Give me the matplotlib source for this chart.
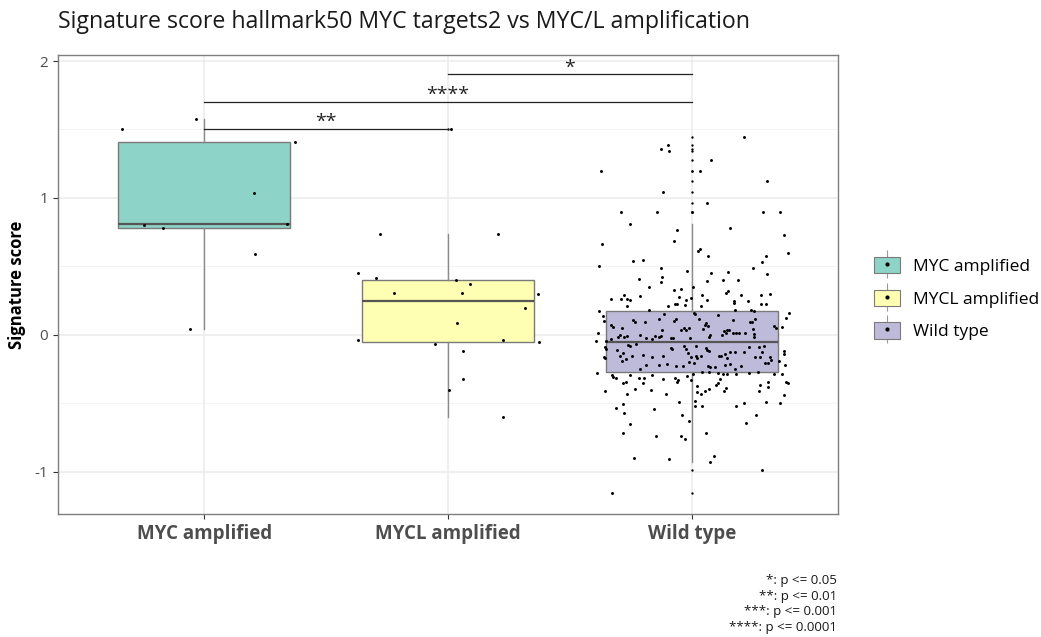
import numpy as np
import matplotlib
matplotlib.use('Agg')
from matplotlib import pyplot as plt
from matplotlib.patches import Patch
from matplotlib.lines import Line2D
from matplotlib.legend_handler import HandlerTuple

plt.rcParams['font.family'] = ['Open Sans', 'DejaVu Sans']

## Data

groups = ['MYC amplified', 'MYCL amplified', 'Wild type']
colors = ['#8dd3c7', '#ffffb3', '#bebada']

# box stats (q1, median, q3, whisker low, whisker high)
q1 = [0.783, -0.053, -0.272]
med = [0.810, 0.250, -0.053]
q3 = [1.411, 0.404, 0.175]
whislo = [0.042, -0.596, -0.927]
whishi = [1.577, 0.735, 0.808]

# jittered points: (x offset, score)
myc_pts = [(-0.337, 1.504), (-0.032, 1.577), (0.373, 1.411), (0.205, 1.039),
           (-0.249, 0.800), (-0.168, 0.783), (0.339, 0.810), (0.209, 0.593),
           (-0.060, 0.042)]

mycl_pts = [(-0.280, 0.735), (0.204, 0.735), (-0.368, 0.450), (-0.296, 0.414),
            (0.033, 0.401), (0.089, 0.370), (-0.220, 0.309), (0.059, 0.309),
            (0.370, 0.299), (0.314, 0.200), (0.037, 0.090), (-0.370, -0.034),
            (0.227, -0.039), (0.373, -0.049), (-0.053, -0.064), (0.060, -0.119),
            (0.063, -0.319), (0.003, -0.399), (0.225, -0.596), (0.012, 1.504)]

wt_pts = [
    # above upper whisker
    (0.213, 1.447), (-0.098, 1.387), (-0.128, 1.358), (-0.094, 1.341), (0.077, 1.280),
    (-0.374, 1.199), (0.033, 1.197), (0.310, 1.124), (-0.116, 1.044), (0.061, 0.961),
    (-0.291, 0.900), (-0.141, 0.900), (0.291, 0.900), (0.362, 0.900),
    # upper whisker area
    (-0.255, 0.808), (-0.059, 0.769), (0.156, 0.781), (0.378, 0.730), (-0.071, 0.684),
    (-0.368, 0.667), (0.025, 0.615), (0.033, 0.625), (0.395, 0.596), (0.066, 0.577),
    (0.306, 0.579), (-0.242, 0.542), (-0.198, 0.550), (0.288, 0.535), (-0.381, 0.506),
    (-0.126, 0.489), (0.250, 0.489), (-0.019, 0.470), (0.078, 0.455), (0.150, 0.460),
    (0.309, 0.445), (-0.123, 0.421), (-0.217, 0.406), (-0.126, 0.387), (0.063, 0.394),
    (0.130, 0.404), (0.189, 0.404), (-0.175, 0.353), (0.005, 0.350), (-0.071, 0.331),
    (-0.046, 0.338), (0.141, 0.309), (0.148, 0.319), (0.320, 0.302), (-0.277, 0.290),
    (0.042, 0.290), (0.200, 0.290), (0.286, 0.290), (-0.052, 0.277), (-0.333, 0.265),
    (-0.291, 0.265), (-0.266, 0.265), (-0.253, 0.255), (-0.214, 0.282), (-0.023, 0.253),
    (-0.003, 0.270), (0.063, 0.253), (0.172, 0.246), (0.175, 0.231), (0.231, 0.246),
    (0.286, 0.224), (0.306, 0.224), (-0.098, 0.214), (-0.068, 0.226), (-0.060, 0.224),
    (-0.026, 0.219), (0.036, 0.214), (-0.265, 0.214),
    # inside box, above median
    (-0.177, 0.182), (0.179, 0.182), (0.245, 0.185), (0.254, 0.173), (0.399, 0.158),
    (-0.380, 0.173), (-0.364, 0.141), (-0.358, 0.104), (-0.331, 0.075), (-0.325, 0.056),
    (-0.239, 0.109), (-0.231, 0.092), (-0.191, 0.097), (-0.136, 0.117), (-0.115, 0.153),
    (-0.073, 0.102), (-0.063, 0.117), (0.008, 0.158), (0.014, 0.153), (0.029, 0.117),
    (0.053, 0.075), (0.060, 0.085), (0.067, 0.068), (0.045, 0.044), (0.109, 0.148),
    (0.169, 0.109), (0.238, 0.092), (0.247, 0.092), (0.261, 0.117), (0.251, 0.044),
    (0.336, 0.063), (0.344, 0.049), (0.370, 0.056), (0.388, 0.124), (-0.286, 0.051),
    (-0.122, 0.039), (-0.046, 0.039), (-0.033, 0.051), (-0.023, 0.036), (-0.011, 0.049),
    (0.131, 0.032), (0.145, 0.039), (0.153, 0.036), (0.168, 0.015), (0.180, 0.015),
    (0.193, 0.015), (0.217, 0.015), (0.254, 0.007), (0.255, -0.017), (-0.386, 0.012),
    (-0.393, -0.046), (-0.294, 0.000), (-0.302, -0.017), (-0.277, -0.017), (-0.264, -0.010),
    (-0.214, 0.002), (-0.186, -0.024), (-0.165, -0.029), (-0.149, -0.010), (-0.134, -0.012),
    (-0.128, -0.010), (-0.086, -0.020), (-0.076, -0.020), (-0.008, -0.020), (0.070, -0.012),
    (0.074, -0.002), (0.126, 0.002), (0.142, 0.012), (-0.331, -0.029), (-0.352, -0.046),
    # inside box, below median
    (-0.261, -0.071), (-0.253, -0.078), (-0.230, -0.066), (-0.357, -0.090), (-0.352, -0.104),
    (-0.305, -0.109), (-0.280, -0.134), (-0.359, -0.158), (-0.357, -0.170), (-0.296, -0.156),
    (-0.246, -0.153), (-0.268, -0.177), (-0.288, -0.192), (-0.200, -0.144), (-0.163, -0.163),
    (-0.116, -0.151), (-0.087, -0.093), (-0.081, -0.102), (-0.033, -0.083), (-0.022, -0.102),
    (-0.015, -0.134), (-0.003, -0.163), (0.016, -0.151), (0.023, -0.168), (0.037, -0.151),
    (0.057, -0.095), (0.063, -0.109), (0.071, -0.114), (0.016, -0.078), (0.112, -0.151),
    (0.122, -0.151), (0.135, -0.139), (0.156, -0.122), (0.177, -0.122), (0.213, -0.124),
    (0.235, -0.088), (0.276, -0.090), (0.295, -0.080), (0.288, -0.122), (0.282, -0.163),
    (0.320, -0.163), (0.327, -0.180), (0.380, -0.114), (0.380, -0.139), (0.258, -0.158),
    (0.145, -0.168), (-0.101, -0.212), (-0.066, -0.229), (-0.213, -0.250), (-0.186, -0.217),
    (-0.136, -0.217), (-0.036, -0.224), (-0.012, -0.197), (0.011, -0.204), (0.068, -0.224),
    (0.074, -0.236), (0.094, -0.236), (0.135, -0.217), (0.157, -0.212), (0.179, -0.250),
    (0.204, -0.224), (0.302, -0.207), (0.313, -0.204), (0.358, -0.192), (0.382, -0.221),
    (-0.388, -0.277), (-0.329, -0.292), (-0.254, -0.290), (-0.165, -0.294), (0.005, -0.287),
    (0.040, -0.272), (0.070, -0.272), (0.108, -0.275), (0.128, -0.285), (0.146, -0.285),
    (0.183, -0.285), (0.235, -0.275), (0.272, -0.272), (0.336, -0.285), (0.372, -0.285),
    # lower whisker area
    (-0.325, -0.304), (-0.311, -0.316), (-0.216, -0.312), (-0.197, -0.312), (-0.120, -0.324),
    (-0.068, -0.316), (-0.060, -0.341), (-0.055, -0.328), (-0.019, -0.297), (-0.005, -0.328),
    (0.115, -0.324), (-0.357, -0.406), (-0.284, -0.353), (-0.268, -0.345), (-0.264, -0.431),
    (-0.231, -0.394), (-0.202, -0.353), (-0.167, -0.401), (-0.104, -0.433), (-0.052, -0.487),
    (-0.309, -0.530), (-0.283, -0.504), (-0.277, -0.567), (-0.155, -0.538), (-0.040, -0.582),
    (-0.011, -0.628), (-0.255, -0.647), (-0.280, -0.715), (-0.146, -0.735), (-0.045, -0.740),
    (-0.026, -0.759), (-0.236, -0.895), (-0.093, -0.905), (0.022, -0.372), (0.022, -0.414),
    (0.036, -0.433), (0.056, -0.406), (0.070, -0.394), (0.014, -0.479), (0.012, -0.521),
    (0.042, -0.516), (0.098, -0.365), (0.108, -0.353), (0.134, -0.406), (0.139, -0.389),
    (0.182, -0.516), (0.214, -0.496), (0.262, -0.582), (0.221, -0.642), (0.057, -0.715),
    (0.091, -0.885), (0.074, -0.927), (0.276, -0.406), (0.282, -0.365), (0.313, -0.340),
    (0.313, -0.382), (0.303, -0.489), (0.362, -0.499), (0.378, -0.438), (0.388, -0.345),
    (0.395, -0.348),
    # below lower whisker
    (0.290, -0.985), (-0.329, -1.156),
]

all_pts = [myc_pts, mycl_pts, wt_pts]

# significance brackets: (group a, group b, y, label)
sig_pairs = [(2, 3, 1.905, '*'), (1, 3, 1.701, '****'), (1, 2, 1.504, '**')]

caption = '*: p <= 0.05\n**: p <= 0.01\n***: p <= 0.001\n****: p <= 0.0001'

#%%

fig = plt.figure(figsize=(10.41, 6.37), dpi=100)
ax = fig.add_axes([0.0557, 0.1931, 0.7493, 0.7206])

pos = [1, 2, 3]
stats = []
for i in range(3):
    vals = np.array([p[1] for p in all_pts[i]])
    fl = vals[(vals > whishi[i] + 1e-6) | (vals < whislo[i] - 1e-6)]
    stats.append(dict(q1=q1[i], med=med[i], q3=q3[i], whislo=whislo[i],
                      whishi=whishi[i], fliers=fl, label=groups[i]))

bp = ax.bxp(stats, positions=pos, widths=0.705, patch_artist=True, showcaps=False,
            boxprops=dict(edgecolor='#7a7a7a', linewidth=1.0),
            whiskerprops=dict(color='#8a8a8a', linewidth=1.0),
            medianprops=dict(color='#555555', linewidth=1.6),
            flierprops=dict(marker='o', markersize=1.7, markerfacecolor='black',
                            markeredgecolor='black', markeredgewidth=0, linestyle='none'),
            zorder=2)
for patch, c in zip(bp['boxes'], colors):
    patch.set_facecolor(c)

for i in range(3):
    xs = [pos[i] + p[0] for p in all_pts[i]]
    ys = [p[1] for p in all_pts[i]]
    ax.scatter(xs, ys, s=4.5, color='black', zorder=4, linewidths=0)

for a, b, y, lab in sig_pairs:
    ax.plot([a, b], [y, y], color='#222222', linewidth=0.9, zorder=5)
    ax.text((a + b) / 2, y + 0.012, lab, ha='center', va='baseline', fontsize=14,
            color='#222222', zorder=5)

ax.set_xlim(0.4, 3.6)
ax.set_ylim(-1.307, 2.044)
ax.set_xticks(pos)
ax.set_xticklabels(groups, fontsize=13.5, fontweight='bold', color='#4d4d4d')
ax.set_yticks([-1, 0, 1, 2])
ax.set_yticklabels(['-1', '0', '1', '2'], fontsize=11, color='#4d4d4d')
ax.set_yticks([-0.5, 0.5, 1.5], minor=True)
ax.tick_params(axis='both', which='major', length=3.5, color='#333333', width=0.8)
ax.tick_params(axis='y', which='minor', length=0)
ax.grid(True, which='major', color='#ebebeb', linewidth=1.1, zorder=0)
ax.grid(True, which='minor', axis='y', color='#f2f2f2', linewidth=0.6, zorder=0)
ax.set_axisbelow(True)
for sp in ax.spines.values():
    sp.set_color('#7f7f7f')
    sp.set_linewidth(1.0)
ax.set_ylabel('Signature score', fontsize=12, fontweight='bold', labelpad=6)

fig.text(0.0557, 0.966, 'Signature score hallmark50 MYC targets2 vs MYC/L amplification',
         fontsize=16.7, ha='left', va='center', color='#1a1a1a')

handles = []
for c in colors:
    handles.append((Line2D([], [], marker='|', markersize=20, markeredgewidth=0.8,
                           color='#9a9a9a', linestyle=''),
                    Patch(facecolor=c, edgecolor='#7a7a7a', linewidth=0.8),
                    Line2D([], [], marker='o', markersize=2, color='black', linestyle='')))
fig.legend(handles, groups, handler_map={tuple: HandlerTuple(ndivide=1)},
           loc='center left', bbox_to_anchor=(0.825, 0.531), frameon=False,
           fontsize=12.5, handlelength=1.45, handleheight=1.05, labelspacing=0.85,
           handletextpad=0.75)

fig.text(0.804, 0.052, caption, ha='right', va='center', fontsize=9.6,
         linespacing=1.25, color='#1a1a1a')

plt.savefig('out.png', dpi=100)
